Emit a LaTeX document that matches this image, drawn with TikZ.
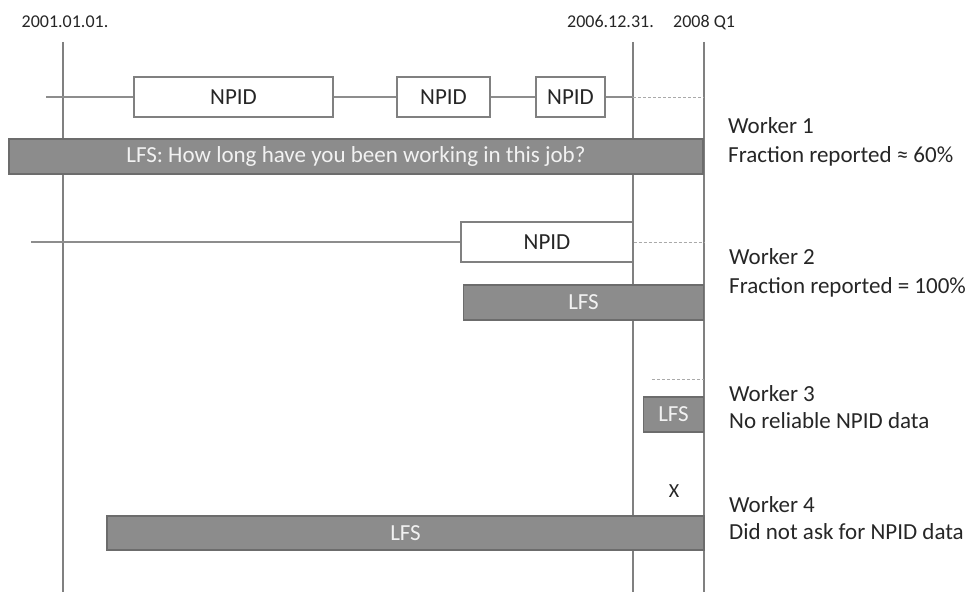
\documentclass[tikz,border=0pt]{standalone}
\usepackage{fontspec}
\setmainfont{Carlito}
\usepackage{color}
\definecolor{linegrey}{RGB}{128,128,128}
\definecolor{barfill}{RGB}{140,140,140}
\definecolor{barline}{RGB}{108,108,108}
\definecolor{dashgrey}{RGB}{170,170,170}

\begin{document}
\begin{tikzpicture}[x=1pt,y=-1pt,
  timeline/.style={draw=linegrey, line width=1.6pt},
  rowline/.style={draw=linegrey!90, line width=1.1pt},
  openend/.style={draw=dashgrey, line width=0.9pt, dash pattern=on 3pt off 2pt},
  npid/.style={draw=linegrey, line width=1.1pt, fill=white, minimum height=40pt, inner sep=0pt, text=black!85, font=\fontsize{23}{29}\selectfont},
  lfs/.style={draw=barline, line width=1.1pt, fill=barfill, minimum height=35pt, inner sep=0pt, text=white!95!black, font=\fontsize{23}{29}\selectfont},
  datelabel/.style={anchor=base, inner sep=0pt, text=black!85, font=\fontsize{18}{22}\selectfont},
  workerlabel/.style={anchor=base west, inner sep=0pt, text=black!85, font=\fontsize{23}{29}\selectfont}]
\useasboundingbox (0,0) rectangle (974,594);
\node[datelabel] (start) at (65,28) {2001.01.01.};
\node[datelabel, anchor=base east] (cutoff) at (654,28) {2006.12.31.};
\node[datelabel, anchor=base west] (survey) at (673,28) {2008 Q1};
\coordinate (starttop) at (63,42);
\coordinate (startbot) at (63,592);
\coordinate (cutofftop) at (633,42);
\coordinate (cutoffbot) at (633,592);
\coordinate (surveytop) at (704,42);
\coordinate (surveybot) at (704,592);
\draw[timeline] (starttop) -- (startbot);
\draw[timeline] (cutofftop) -- (cutoffbot);
\draw[timeline] (surveytop) -- (surveybot);
\coordinate (rowa0) at (46,97);
\coordinate (rowa1) at (633,97);
\coordinate (rowa2) at (704,97);
\node[npid, minimum width=199pt] (npida) at (233.5,97) {NPID};
\node[npid, minimum width=93pt] (npidb) at (443.5,97) {NPID};
\node[npid, minimum width=69pt] (npidc) at (570.5,97) {NPID};
\draw[rowline] (rowa0) -- (npida.west);
\draw[rowline] (npida.east) -- (npidb.west);
\draw[rowline] (npidb.east) -- (npidc.west);
\draw[rowline] (npidc.east) -- (rowa1);
\draw[openend] (rowa1) -- (rowa2);
\node[lfs, minimum width=694pt] (lfsa) at (356,156.5) {LFS: How long have you been working in this job?};
\coordinate (rowb0) at (31,242);
\coordinate (rowb2) at (704,242);
\node[npid, minimum width=172pt] (npidd) at (547,242) {NPID};
\draw[rowline] (rowb0) -- (npidd.west);
\draw[openend] (npidd.east) -- (rowb2);
\node[lfs, minimum width=240pt] (lfsb) at (583.5,302.5) {LFS};
\coordinate (rowc1) at (652,379);
\coordinate (rowc2) at (704,379);
\draw[openend] (rowc1) -- (rowc2);
\node[lfs, minimum width=60pt] (lfsc) at (673.5,414.5) {LFS};
\node[inner sep=0pt, text=black!85, font=\fontsize{20}{24}\selectfont] (nodata) at (674,491) {X};
\node[lfs, minimum width=597pt, minimum height=34pt] (lfsd) at (405.5,533) {LFS};
\node[workerlabel] (wa) at (728,133) {Worker 1};
\node[workerlabel] (wafrac) at (728,162) {Fraction reported ≈ 60\%};
\node[workerlabel] (wb) at (729,264) {Worker 2};
\node[workerlabel] (wbfrac) at (729,293) {Fraction reported = 100\%};
\node[workerlabel] (wc) at (729,401) {Worker 3};
\node[workerlabel] (wcnote) at (729,428) {No reliable NPID data};
\node[workerlabel] (wd) at (729,512) {Worker 4};
\node[workerlabel] (wdnote) at (729,539) {Did not ask for NPID data};
\end{tikzpicture}
\end{document}
